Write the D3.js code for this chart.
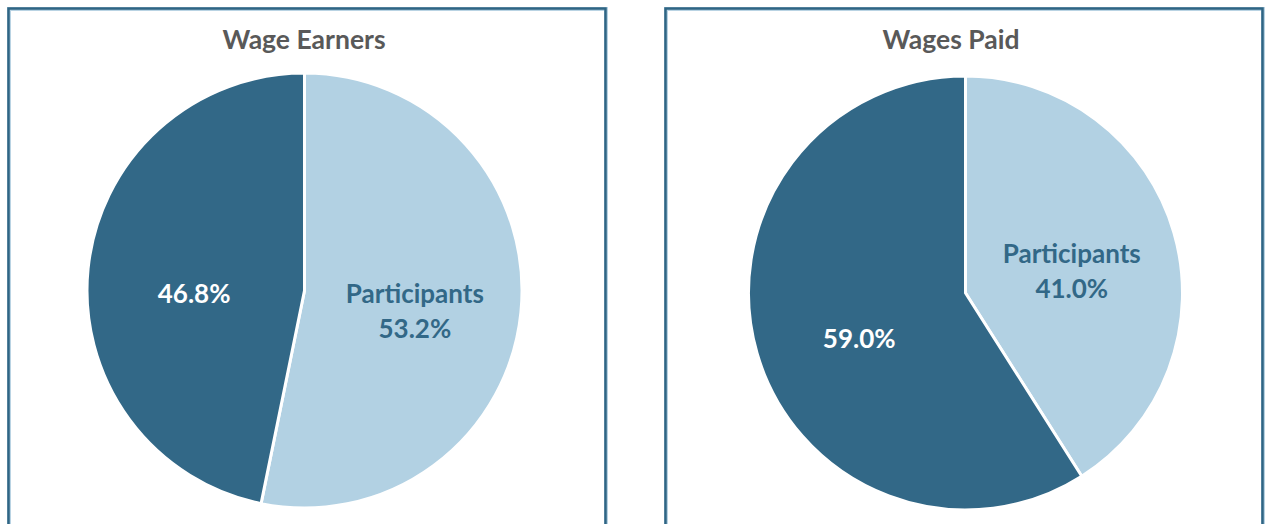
<!DOCTYPE html>
<html>
<head>
<meta charset="utf-8">
<script src="https://cdn.jsdelivr.net/npm/d3@7"></script>
<style>
  body { margin: 0; background: #fff; }
  svg { display: block; font-family: Lato, "Open Sans", sans-serif; }
</style>
</head>
<body>
<script>
var width = 1265
var height = 524

// data
var chartTitles = ['Wage Earners', 'Wages Paid']
var categories = ['Participants', 'Non-participants']
var wageEarners = [53.2, 46.8]
var wagesPaid = [41.0, 59.0]
var seriesValues = [wageEarners, wagesPaid]

var color = d3.scaleOrdinal()
    .domain(categories)
    .range(['#b2d1e3', '#326887']);

var labelColor = d3.scaleOrdinal()
    .domain(categories)
    .range(['#326887', '#ffffff']);

var panels = [
    { x: 9, y: 9, w: 597, cx: 304.5, cy: 290.5, r: 217.5, tx: 304 },
    { x: 666, y: 9, w: 597, cx: 965.5, cy: 293, r: 217, tx: 951 }
];

var pie = d3.pie()
    .sort(null)
    .value(d => d.value);

var fmt = d3.format('.1f');

var svg = d3.select('body').append('svg')
    .attr('width', width)
    .attr('height', height);

panels.forEach(function(p, i) {
    var data = categories.map((c, j) => ({ name: c, value: seriesValues[i][j] }));

    var g = svg.append('g');

    // panel frame: dark line with a pale inner edge
    g.append('rect')
        .attr('x', p.x)
        .attr('y', p.y)
        .attr('width', p.w)
        .attr('height', 600)
        .attr('fill', 'none')
        .attr('stroke', '#b9d3e3')
        .attr('stroke-width', 4);
    g.append('rect')
        .attr('x', p.x - 0.5)
        .attr('y', p.y - 0.5)
        .attr('width', p.w)
        .attr('height', 600)
        .attr('fill', 'none')
        .attr('stroke', '#2f6584')
        .attr('stroke-width', 2.5);

    g.append('text')
        .attr('x', p.tx)
        .attr('y', 49)
        .attr('text-anchor', 'middle')
        .attr('font-size', 26.5)
        .attr('font-weight', 'bold')
        .attr('fill', '#595959')
        .text(chartTitles[i]);

    var arc = d3.arc()
        .innerRadius(0)
        .outerRadius(p.r);

    var labelArc = d3.arc()
        .innerRadius(p.r * 0.51)
        .outerRadius(p.r * 0.51);

    var pg = g.append('g')
        .attr('transform', `translate(${p.cx},${p.cy})`);

    var slices = pie(data);

    pg.selectAll('path')
        .data(slices)
        .join('path')
        .attr('d', arc)
        .attr('fill', d => color(d.data.name))
        .attr('stroke', '#fff')
        .attr('stroke-width', 3)
        .attr('stroke-linejoin', 'round');

    var label = pg.selectAll('text')
        .data(slices)
        .join('text')
        .attr('transform', d => {
            var c = labelArc.centroid(d);
            return `translate(${c[0]},${c[1] + 12})`;
        })
        .attr('text-anchor', 'middle')
        .attr('font-size', 26)
        .attr('font-weight', 'bold')
        .attr('fill', d => labelColor(d.data.name));

    label.each(function(d) {
        var t = d3.select(this);
        if (d.data.name === 'Participants') {
            t.append('tspan').attr('x', 0).attr('dy', '-0.42em').text(d.data.name);
            t.append('tspan').attr('x', 0).attr('dy', '1.35em').text(fmt(d.data.value) + '%');
        } else {
            t.append('tspan').attr('x', 0).attr('dy', '0.45em').text(fmt(d.data.value) + '%');
        }
    });
});
</script>
</body>
</html>
